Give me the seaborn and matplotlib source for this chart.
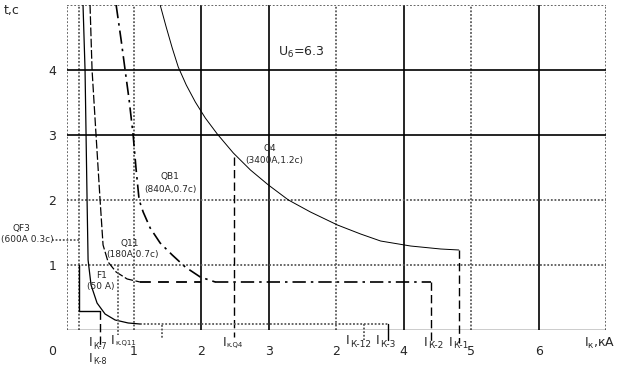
import matplotlib
matplotlib.use("Agg")
import matplotlib.pyplot as plt
import seaborn as sns

# --- data (x in grid units, t in seconds) ---
f1_x = [0.245, 0.275, 0.29, 0.305, 0.32, 0.364, 0.453, 0.572, 0.721, 0.914, 1.092]
f1_t = [5.0, 4.0, 3.0, 2.0, 1.077, 0.692, 0.415, 0.246, 0.154, 0.108, 0.092]

q11_x = [0.349, 0.379, 0.438, 0.498, 0.542, 0.617, 0.736, 0.899, 1.092]
q11_t = [5.0, 4.0, 3.0, 2.0, 1.308, 1.046, 0.892, 0.785, 0.738]

qb1_x = [0.736, 0.810, 0.869, 0.929, 0.988, 1.033, 1.077, 1.137, 1.241, 1.389,
         1.568, 1.761, 1.984, 2.207]
qb1_t = [5.0, 4.462, 4.0, 3.538, 3.0, 2.462, 2.0, 1.815, 1.569, 1.338,
         1.154, 0.969, 0.815, 0.738]

q4_x = [1.389, 1.478, 1.568, 1.657, 1.776, 1.910, 2.058, 2.236, 2.474, 2.727,
        2.994, 3.291, 3.618, 4.019, 4.361, 4.658, 5.104, 5.550, 5.817]
q4_t = [5.0, 4.662, 4.338, 4.046, 3.769, 3.508, 3.262, 3.015, 2.723, 2.462,
        2.231, 2.0, 1.815, 1.615, 1.477, 1.369, 1.292, 1.246, 1.231]

# fault current marks
ik7_x = 0.498
ik_q11_x = 0.765
ik_q4_x = 2.489
ik12_x = 4.406
ik3_x = 4.762
ik2_x = 5.401
ik1_x = 5.817
qf3_x = 0.186
qf3_t = 0.292
hold_07_t = 0.738
f1_end_t = 0.092

# current labels: (x of "I", y, subscript, subscript size)
ik_labels = [
    (0.334, -0.20, 'К-7', 5.8),
    (0.334, -0.431, 'К-8', 5.8),
    (0.661, -0.154, 'к.Q11', 5),
    (2.311, -0.185, 'к.Q4', 5),
    (4.138, -0.169, 'К-12', 6.5),
    (4.584, -0.169, 'К-3', 6.5),
    (5.297, -0.185, 'К-2', 6.5),
    (5.669, -0.185, 'К-1', 6.5),
]

xtick_pos = [1, 2, 3, 4, 5, 6, 7]
xtick_lab = ['1', '2', '3', '2', '4', '5', '6']
ytick_pos = [1, 2, 3, 4]
ytick_lab = ['1', '2', '3', '4']

solid_v = [2, 3, 5, 7]
dotted_v = [0, qf3_x, 1, 4, 6, 8]
solid_h = [3, 4]
dotted_h = [1, 2, 5]

sns.set_style("white")
plt.rcParams['font.family'] = ['DejaVu Sans']

f = plt.figure(figsize=(6.23, 3.70), dpi=100)
ax = f.add_axes([66.5 / 623, 40 / 370, 539.5 / 623, 325 / 370])
ax.set_xlim(0, 8)
ax.set_ylim(0, 5)
for s in ax.spines.values():
    s.set_visible(False)

dot = dict(color='0.35', ls=(0, (1, 1)), lw=1.3)
for v in solid_v:
    ax.axvline(v, color='k', lw=1.2)
for v in dotted_v:
    ax.axvline(v, **dot)
for h in solid_h:
    ax.axhline(h, color='k', lw=1.2)
for h in dotted_h:
    ax.axhline(h, **dot)
ax.axhline(0, color='k', lw=1.0)

# characteristics
sns.lineplot(x=f1_x, y=f1_t, sort=False, estimator=None, color='k', lw=0.9, ax=ax)
sns.lineplot(x=q11_x, y=q11_t, sort=False, estimator=None, color='k', lw=0.9, ax=ax)
ax.lines[-1].set_dashes([7, 2])
sns.lineplot(x=qb1_x, y=qb1_t, sort=False, estimator=None, color='k', lw=1.2, ax=ax)
ax.lines[-1].set_dashes([8, 3, 1.5, 3])
sns.lineplot(x=q4_x, y=q4_t, sort=False, estimator=None, color='k', lw=0.7, ax=ax)

# horizontal / vertical segments
ax.plot([q11_x[-1], 2.0], [hold_07_t] * 2, color='k', lw=1.3, dashes=[6, 4])
ax.plot([qb1_x[-1], ik2_x], [hold_07_t] * 2, color='k', lw=1.2, dashes=[8, 3, 1.5, 3])
ax.plot([ik2_x, ik2_x], [hold_07_t, -0.2], color='k', lw=1.0, dashes=[6, 3], clip_on=False)
ax.plot([q4_x[-1], ik1_x], [q4_t[-1], q4_t[-1]], color='k', lw=0.8)
ax.plot([ik1_x, ik1_x], [q4_t[-1], -0.2], color='k', lw=1.0, dashes=[6, 3], clip_on=False)
ax.plot([ik_q4_x, ik_q4_x], [2.662, -0.1], color='k', lw=1.0, dashes=[6, 3], clip_on=False)

ax.plot([f1_x[-1], ik3_x], [f1_end_t, f1_end_t], **dot)
ax.plot([ik3_x, ik3_x], [f1_end_t, -0.16], color='k', lw=1.0, clip_on=False)
ax.plot([ik12_x, ik12_x], [0.1, -0.16], clip_on=False, **dot)
ax.plot([1.42, 1.42], [0.08, -0.12], clip_on=False, **dot)
ax.plot([ik_q11_x, ik_q11_x], [1.0, -0.08], clip_on=False, **dot)

ax.plot([qf3_x, qf3_x], [1.0, qf3_t], color='k', lw=1.0)
ax.plot([qf3_x, ik7_x], [qf3_t, qf3_t], color='k', lw=1.0)
ax.plot([ik7_x, ik7_x], [qf3_t, -0.23], color='k', lw=1.0, dashes=[6, 3], clip_on=False)
ax.plot([-0.215, qf3_x], [1.385, 1.385], clip_on=False, **dot)

# ticks
ax.set_xticks(xtick_pos, xtick_lab)
ax.set_yticks(ytick_pos, ytick_lab)
ax.tick_params(axis='x', length=0, pad=11, labelsize=9)
ax.tick_params(axis='y', length=0, pad=7.5, labelsize=9)

sm = 6.5
kw = dict(ha='center', va='center', clip_on=False)
ax.text(-0.22, -0.33, '0', fontsize=9, **kw)
ax.text(-0.81, 4.91, 't,c', fontsize=9, **kw)
ax.text(7.9, -0.2, r'$\mathregular{I_{к}}$,кА', fontsize=9, **kw)
ax.text(3.13, 4.277, r'$\mathregular{U_{б}}$=6.3', fontsize=9, ha='left', va='center')

ax.text(3.02, 2.8, 'Q4', fontsize=sm, **kw)
ax.text(3.076, 2.615, '(3400A,1.2c)', fontsize=sm, **kw)
ax.text(1.538, 2.354, 'QB1', fontsize=sm, **kw)
ax.text(1.538, 2.169, '(840A,0.7c)', fontsize=sm, **kw)
ax.text(0.944, 1.338, 'Q11', fontsize=sm, **kw)
ax.text(0.974, 1.154, '(180A,0.7c)', fontsize=sm, **kw)
ax.text(-0.661, 1.554, 'QF3', fontsize=sm, **kw)
ax.text(-0.587, 1.385, '(600A 0.3c)', fontsize=sm, **kw)
ax.text(0.513, 0.846, 'F1', fontsize=sm, **kw)
ax.text(0.513, 0.662, '(50 A)', fontsize=sm, **kw)

for x, y, sub, size in ik_labels:
    ax.annotate('I', xy=(x, y), ha='left', va='center', fontsize=9,
                annotation_clip=False)
    ax.annotate(sub, xy=(x, y), xytext=(3.0, -2.5), textcoords='offset points',
                ha='left', va='center', fontsize=size, annotation_clip=False)

f.savefig("out.png", dpi=100)
